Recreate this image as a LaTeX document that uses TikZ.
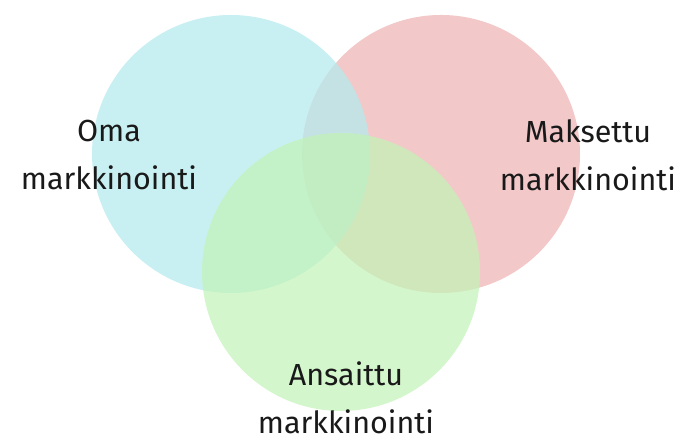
\documentclass[tikz,border=0pt]{standalone}
\usepackage{fontspec}
\setmainfont{Fira Sans}
\usetikzlibrary{positioning}

\definecolor{omablue}{RGB}{179,234,238}
\definecolor{maksred}{RGB}{238,179,179}
\definecolor{ansgreen}{RGB}{195,243,184}

\begin{document}
\begin{tikzpicture}[
  x=1pt, y=1pt,
  set/.style = {circle, minimum size=278pt, inner sep=0pt, fill opacity=0.72},
  txt/.style = {align=center, font=\fontsize{30.5}{48}\selectfont, text=black!90, inner sep=1pt},
]
  \useasboundingbox (0,0) rectangle (686,443);

  % The three sets
  \node[set, fill=maksred]  (maksettu) at (441,289) {};
  \node[set, fill=omablue]  (oma)      at (231,289) {};
  \node[set, fill=ansgreen] (ansaittu) at (341,171) {};

  % Labels
  \node[txt] (omatxt)  at (109,288) {Oma\\markkinointi};
  \node[txt] (makstxt) at (588,288) {Maksettu\\markkinointi};
  \node[txt] (anstxt)  at (346,45)  {Ansaittu\\markkinointi};
\end{tikzpicture}
\end{document}
